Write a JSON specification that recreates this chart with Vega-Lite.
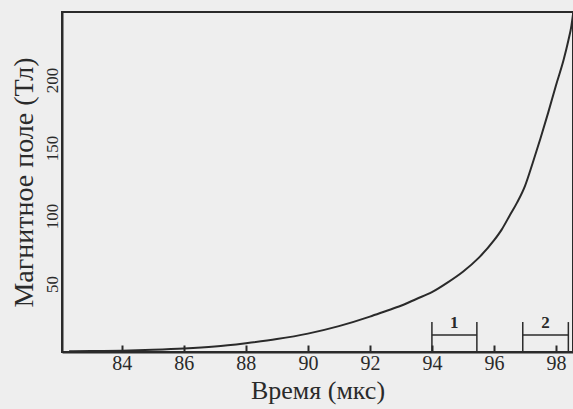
{
  "$schema": "https://vega.github.io/schema/vega-lite/v6.json",
  "autosize": {"type": "none"},
  "padding": {"left": 62, "top": 12, "right": 0, "bottom": 57},
  "width": 511,
  "height": 340,
  "background": "#eeeeee",
  "resolve": {"axis": {"x": "independent", "y": "independent"}},
  "config": {
    "view": {"stroke": "#2a2a2a", "strokeWidth": 2},
    "font": "Liberation Serif",
    "text": {"font": "Liberation Serif"},
    "axis": {"domainColor": "#2a2a2a", "domainWidth": 2, "tickColor": "#2a2a2a", "tickWidth": 2, "labelColor": "#2a2a2a", "titleColor": "#2a2a2a", "grid": false, "labelFont": "Liberation Serif", "titleFont": "Liberation Serif", "titleFontWeight": "normal"},
    "axisX": {"tickSize": -7, "labelFontSize": 20, "labelPadding": 8, "titleFontSize": 26, "titlePadding": 4},
    "axisY": {"ticks": false, "labelAngle": -90, "labelAlign": "center", "labelBaseline": "bottom", "labelFontSize": 17, "labelPadding": 1, "titleFontSize": 28, "titlePadding": 5}
  },
  "datasets": {
    "curve": [
      {"t": 82.3, "b": 0.5}, {"t": 83, "b": 0.7}, {"t": 84, "b": 1}, {"t": 85, "b": 1.6},
      {"t": 86, "b": 2.5}, {"t": 87, "b": 4}, {"t": 88, "b": 6.5}, {"t": 89, "b": 9.5},
      {"t": 90, "b": 13.5}, {"t": 91, "b": 19}, {"t": 92, "b": 26}, {"t": 92.5, "b": 30},
      {"t": 93, "b": 34}, {"t": 93.5, "b": 39}, {"t": 94, "b": 44}, {"t": 94.5, "b": 51},
      {"t": 95, "b": 59}, {"t": 95.5, "b": 69}, {"t": 96, "b": 82}, {"t": 96.25, "b": 90},
      {"t": 96.5, "b": 100}, {"t": 96.75, "b": 110}, {"t": 97, "b": 122}, {"t": 97.25, "b": 139},
      {"t": 97.5, "b": 157}, {"t": 97.75, "b": 176}, {"t": 98, "b": 196}, {"t": 98.25, "b": 215},
      {"t": 98.4, "b": 229}, {"t": 98.5, "b": 240}, {"t": 98.56, "b": 250}
    ],
    "intervals": [
      {"label": "1", "start": 94.0, "end": 95.45, "mid": 94.72},
      {"label": "2", "start": 96.93, "end": 98.4, "mid": 97.66}
    ],
    "ends": [{"t": 94.0}, {"t": 95.45}, {"t": 96.93}, {"t": 98.4}]
  },
  "layer": [
    {
      "data": {"name": "curve"},
      "mark": {"type": "line", "color": "#2a2a2a", "strokeWidth": 2, "clip": true, "interpolate": "monotone"},
      "encoding": {
        "x": {"field": "t", "type": "quantitative", "scale": {"domain": [82.07, 98.55], "nice": false, "zero": false},
          "axis": {"title": "Время (мкс)", "values": [84, 86, 88, 90, 92, 94, 96, 98], "tickSize": -7, "labelFontSize": 20, "labelPadding": 8, "titleFontSize": 26, "titlePadding": 4}},
        "y": {"field": "b", "type": "quantitative", "scale": {"domain": [0, 250], "nice": false},
          "axis": {"title": "Магнитное поле (Тл)", "values": [50, 100, 150, 200], "ticks": false, "labelAngle": -90, "labelAlign": "center", "labelBaseline": "bottom", "labelFontSize": 17, "labelPadding": 1, "titleFontSize": 28, "titlePadding": 5}}
      }
    },
    {
      "data": {"name": "ends"},
      "mark": {"type": "rule", "color": "#2a2a2a", "strokeWidth": 1.5},
      "encoding": {
        "x": {"field": "t", "type": "quantitative", "axis": null},
        "y": {"datum": 0, "type": "quantitative", "axis": null},
        "y2": {"datum": 22}
      }
    },
    {
      "data": {"name": "intervals"},
      "mark": {"type": "rule", "color": "#2a2a2a", "strokeWidth": 1.5},
      "encoding": {
        "x": {"field": "start", "type": "quantitative", "axis": null},
        "x2": {"field": "end"},
        "y": {"datum": 12.5, "type": "quantitative", "axis": null}
      }
    },
    {
      "data": {"name": "intervals"},
      "mark": {"type": "text", "color": "#2a2a2a", "fontSize": 17, "fontWeight": "bold", "baseline": "middle", "align": "center"},
      "encoding": {
        "x": {"field": "mid", "type": "quantitative", "axis": null},
        "y": {"datum": 21, "type": "quantitative", "axis": null},
        "text": {"field": "label"}
      }
    }
  ]
}
